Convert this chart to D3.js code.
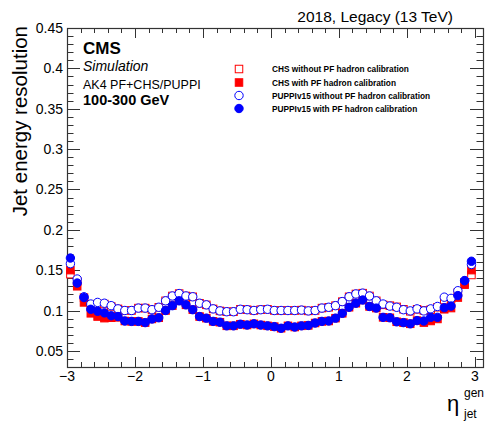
<!doctype html>
<html lang="en">
<head>
    <meta charset="UTF-8" />
    <title>Jet energy resolution</title>
    <script src="https://d3js.org/d3.v7.min.js"></script>
    <style>
        body, html {
            margin: 0;
            padding: 0;
            background: white;
            overflow: hidden;
        }
        svg {
            display: block;
            font-family: "Liberation Sans", Arial, sans-serif;
        }
    </style>
</head>
<body>
    <svg id="chart" width="486" height="421"></svg>

    <script>
        // bin centres in eta
        const etaBins = [-2.95, -2.85, -2.75, -2.65, -2.55, -2.45, -2.35, -2.25, -2.15, -2.05,
            -1.95, -1.85, -1.75, -1.65, -1.55, -1.45, -1.35, -1.25, -1.15, -1.05,
            -0.95, -0.85, -0.75, -0.65, -0.55, -0.45, -0.35, -0.25, -0.15, -0.05,
            0.05, 0.15, 0.25, 0.35, 0.45, 0.55, 0.65, 0.75, 0.85, 0.95,
            1.05, 1.15, 1.25, 1.35, 1.45, 1.55, 1.65, 1.75, 1.85, 1.95,
            2.05, 2.15, 2.25, 2.35, 2.45, 2.55, 2.65, 2.75, 2.85, 2.95];

        const chsWithout = [0.145, 0.136, 0.116, 0.107, 0.108, 0.108, 0.105, 0.102, 0.100, 0.100,
            0.103, 0.103, 0.101, 0.104, 0.112, 0.118, 0.121, 0.118, 0.117, 0.109,
            0.107, 0.102, 0.0995, 0.0985, 0.0985, 0.1015, 0.101, 0.100, 0.101, 0.1015,
            0.100, 0.100, 0.100, 0.100, 0.1005, 0.0995, 0.100, 0.103, 0.104, 0.106,
            0.111, 0.117, 0.1205, 0.1215, 0.118, 0.112, 0.107, 0.106, 0.1045, 0.1015,
            0.099, 0.1015, 0.100, 0.101, 0.104, 0.113, 0.114, 0.122, 0.135, 0.144];

        const chsWith = [0.150, 0.130, 0.110, 0.0965, 0.0925, 0.0905, 0.091, 0.0915, 0.087, 0.0865,
            0.0865, 0.085, 0.0895, 0.091, 0.100, 0.106, 0.112, 0.107, 0.101, 0.0925,
            0.0905, 0.0865, 0.0855, 0.081, 0.081, 0.083, 0.082, 0.0835, 0.082, 0.081,
            0.080, 0.078, 0.081, 0.0795, 0.081, 0.0815, 0.0845, 0.0865, 0.087, 0.0905,
            0.0965, 0.104, 0.109, 0.113, 0.105, 0.103, 0.0915, 0.091, 0.086, 0.085,
            0.0835, 0.0875, 0.085, 0.087, 0.0895, 0.1015, 0.103, 0.116, 0.132, 0.150];

        const puppiWithout = [0.158, 0.139, 0.117, 0.108, 0.110, 0.109, 0.106, 0.102, 0.100, 0.100,
            0.103, 0.103, 0.101, 0.104, 0.112, 0.118, 0.121, 0.118, 0.117, 0.109,
            0.107, 0.102, 0.0995, 0.0985, 0.0985, 0.1015, 0.101, 0.100, 0.101, 0.1015,
            0.100, 0.100, 0.100, 0.100, 0.1005, 0.0995, 0.100, 0.103, 0.104, 0.106,
            0.111, 0.117, 0.1205, 0.1215, 0.118, 0.112, 0.108, 0.1055, 0.104, 0.101,
            0.0995, 0.102, 0.0995, 0.102, 0.105, 0.1165, 0.115, 0.1245, 0.137, 0.157];

        const puppiWith = [0.165, 0.134, 0.116, 0.1015, 0.099, 0.097, 0.0935, 0.0925, 0.087, 0.0865,
            0.0865, 0.085, 0.0895, 0.091, 0.100, 0.106, 0.112, 0.107, 0.101, 0.0925,
            0.0905, 0.0865, 0.0855, 0.081, 0.081, 0.083, 0.082, 0.0835, 0.082, 0.081,
            0.080, 0.078, 0.081, 0.0795, 0.081, 0.0815, 0.0845, 0.0865, 0.087, 0.0905,
            0.0965, 0.104, 0.109, 0.113, 0.105, 0.103, 0.0915, 0.091, 0.086, 0.085,
            0.0835, 0.0875, 0.087, 0.0915, 0.0915, 0.1035, 0.1055, 0.1185, 0.137, 0.161];

        const legendLabels = ["CHS without PF hadron calibration", "CHS with PF hadron calibration",
            "PUPPIv15 without PF hadron calibration", "PUPPIv15 with PF hadron calibration"];
        const yTicks = [0.05, 0.1, 0.15, 0.2, 0.25, 0.3, 0.35, 0.4, 0.45];
        const xTicks = [-3, -2, -1, 0, 1, 2, 3];

        const svg = d3.select("#chart");
        const m = { left: 67, right: 483, top: 28, bottom: 367 };

        const x = d3.scaleLinear().domain([-3, 3.12]).range([m.left, m.right]);
        const y = d3.scaleLinear().domain([0.03, 0.45]).range([m.bottom, m.top]);

        const frameColor = "#333";

        // ticks on all four sides
        const ticks = svg.append("g").attr("stroke", frameColor).attr("stroke-width", 1);
        d3.range(-3, 3.12, 0.2).forEach(v => {
            const major = Math.abs(v - Math.round(v)) < 1e-6;
            const len = major ? 10 : 5;
            const px = Math.round(x(v)) + 0.5;
            ticks.append("line").attr("x1", px).attr("x2", px).attr("y1", m.bottom).attr("y2", m.bottom - len);
            ticks.append("line").attr("x1", px).attr("x2", px).attr("y1", m.top).attr("y2", m.top + len);
        });
        d3.range(0.03, 0.4501, 0.01).forEach(v => {
            const major = Math.abs(v * 20 - Math.round(v * 20)) < 1e-6;
            const len = major ? 13 : 6.5;
            const py = Math.round(y(v)) + 0.5;
            ticks.append("line").attr("x1", m.left).attr("x2", m.left + len).attr("y1", py).attr("y2", py);
            ticks.append("line").attr("x1", m.right).attr("x2", m.right - len).attr("y1", py).attr("y2", py);
        });

        svg.append("rect")
            .attr("x", m.left + 0.5).attr("y", m.top + 0.5)
            .attr("width", m.right - m.left).attr("height", m.bottom - m.top)
            .attr("fill", "none").attr("stroke", frameColor).attr("stroke-width", 1.2);

        // tick labels
        svg.append("g").selectAll("text").data(yTicks).join("text")
            .attr("x", m.left - 4).attr("y", d => y(d) + 5)
            .attr("text-anchor", "end").attr("font-size", 14)
            .text(d => String(+d.toFixed(2)));

        svg.append("g").selectAll("text").data(xTicks).join("text")
            .attr("x", d => x(d)).attr("y", 381)
            .attr("text-anchor", "middle").attr("font-size", 14)
            .text(d => d < 0 ? "\u2212" + Math.abs(d) : d);

        // axis titles
        svg.append("text")
            .attr("transform", `translate(27,${m.top - 2}) rotate(-90)`)
            .attr("text-anchor", "end").attr("font-size", 20.5)
            .text("Jet energy resolution");

        svg.append("text").attr("x", 447).attr("y", 411).attr("font-size", 22).text("\u03b7");
        svg.append("text").attr("x", 464).attr("y", 397).attr("font-size", 12).text("gen");
        svg.append("text").attr("x", 464).attr("y", 418).attr("font-size", 12).text("jet");

        // header texts
        svg.append("text").attr("x", 453).attr("y", 22).attr("text-anchor", "end")
            .attr("font-size", 15.5).text("2018, Legacy (13 TeV)");
        svg.append("text").attr("x", 83).attr("y", 54).attr("font-size", 17)
            .attr("font-weight", "bold").text("CMS");
        svg.append("text").attr("x", 83).attr("y", 71).attr("font-size", 14)
            .attr("font-style", "italic").text("Simulation");
        svg.append("text").attr("x", 83).attr("y", 89).attr("font-size", 12.5)
            .text("AK4 PF+CHS/PUPPI");
        svg.append("text").attr("x", 83).attr("y", 105).attr("font-size", 14.5)
            .attr("font-weight", "bold").text("100-300 GeV");

        // markers
        const red = "#ff0000", blue = "#0000ff";
        const sq = 7.5, rad = 4.2;
        const series = [
            { vals: chsWithout, shape: "square", fill: "white", stroke: red },
            { vals: chsWith, shape: "square", fill: red, stroke: red },
            { vals: puppiWithout, shape: "circle", fill: "white", stroke: blue },
            { vals: puppiWith, shape: "circle", fill: blue, stroke: blue }
        ];

        function drawMarker(g, s, cx, cy) {
            if (s.shape === "square") {
                g.append("rect").attr("x", cx - sq / 2).attr("y", cy - sq / 2)
                    .attr("width", sq).attr("height", sq)
                    .attr("fill", s.fill).attr("stroke", s.stroke).attr("stroke-width", 1);
            } else {
                g.append("circle").attr("cx", cx).attr("cy", cy).attr("r", rad)
                    .attr("fill", s.fill).attr("stroke", s.stroke).attr("stroke-width", 1);
            }
        }

        series.forEach(s => {
            const g = svg.append("g");
            etaBins.forEach((e, i) => drawMarker(g, s, x(e), y(s.vals[i])));
        });

        // legend
        const legY = [69, 82.5, 95.5, 108.5];
        series.forEach((s, i) => {
            const g = svg.append("g");
            drawMarker(g, s, 239, legY[i]);
            g.append("text").attr("x", 272).attr("y", legY[i] + 3)
                .attr("font-size", 8.3).attr("font-weight", "bold")
                .text(legendLabels[i]);
        });
    </script>
</body>
</html>
